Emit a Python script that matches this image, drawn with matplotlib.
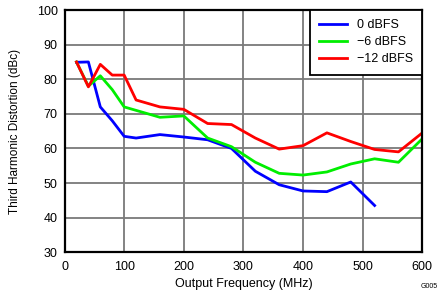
import matplotlib
matplotlib.use('Agg')
import matplotlib.pyplot as plt

freq = [20, 40, 60, 80, 100, 120, 160, 200, 240, 280, 320, 360, 400, 440, 480, 520, 560, 600]

hd3_0dbfs = [84.9, 85.0, 72.0, 68.0, 63.5, 63.0, 64.0, 63.3, 62.5, 60.0, 53.4, 49.5, 47.7, 47.5, 50.3, 43.5]
hd3_6dbfs = [85.0, 78.0, 81.0, 77.0, 72.0, 71.0, 69.0, 69.4, 63.0, 60.5, 56.0, 52.8, 52.3, 53.2, 55.5, 57.0, 56.0, 62.8]
hd3_12dbfs = [85.0, 77.8, 84.3, 81.2, 81.2, 74.0, 72.0, 71.3, 67.2, 66.9, 63.0, 59.8, 60.8, 64.5, 62.0, 59.7, 59.0, 64.5]

labels = ['0 dBFS', '\u22126 dBFS', '\u221212 dBFS']
colors = ['#0000ff', '#00ee00', '#ff0000']

xticks = [0, 100, 200, 300, 400, 500, 600]
yticks = [30, 40, 50, 60, 70, 80, 90, 100]

plt.rcParams['font.family'] = ['Liberation Sans', 'DejaVu Sans']

fig = plt.figure(figsize=(4.39, 2.96), dpi=100)
ax = fig.add_axes([0.147, 0.148, 0.815, 0.818])

ax.plot(freq[:len(hd3_0dbfs)], hd3_0dbfs, color=colors[0], lw=2, label=labels[0])
ax.plot(freq, hd3_6dbfs, color=colors[1], lw=2, label=labels[1])
ax.plot(freq, hd3_12dbfs, color=colors[2], lw=2, label=labels[2])

ax.set_xlim(0, 600)
ax.set_ylim(30, 100)
ax.set_xticks(xticks)
ax.set_yticks(yticks)
ax.tick_params(length=0, labelsize=9)
ax.tick_params(axis='x', pad=6)
ax.tick_params(axis='y', pad=5)
ax.grid(True, color='#7a7a7a', lw=1.3)
for s in ax.spines.values():
    s.set_linewidth(1.6)

ax.set_xlabel('Output Frequency (MHz)', fontsize=9, labelpad=4)
ax.set_ylabel('Third Harmonic Distortion (dBc)', fontsize=8.5, labelpad=11)

leg = ax.legend(loc='upper right', fontsize=9, frameon=True, fancybox=False,
                borderaxespad=0, handlelength=2.2, handletextpad=0.8,
                borderpad=0.75, labelspacing=0.4, framealpha=1)
leg.get_frame().set_edgecolor('black')
leg.get_frame().set_linewidth(1.3)

fig.text(0.997, 0.02, 'G005', fontsize=5, ha='right', va='bottom')

fig.savefig('out.png', dpi=100)
